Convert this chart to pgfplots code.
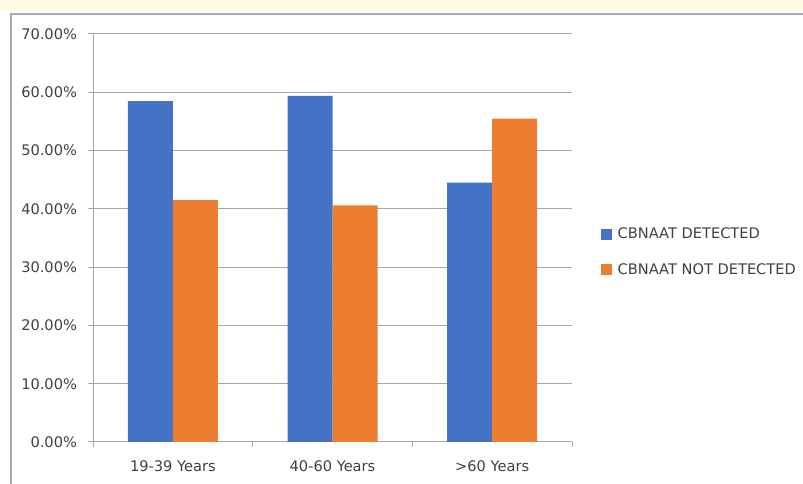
\documentclass[border=0pt]{standalone}
\usepackage{pgfplots}
\pgfplotsset{compat=1.18}
\usepackage{fontspec}
\setmainfont{DejaVu Sans}
\definecolor{cblue}{HTML}{4472C4}
\definecolor{corange}{HTML}{ED7D31}
\definecolor{gridgray}{HTML}{A6A6A6}
\definecolor{framegray}{HTML}{ABABAB}
\definecolor{topyellow}{HTML}{FFFBE5}
\definecolor{txt}{HTML}{404040}
\begin{document}
\fontsize{14.6bp}{17bp}\selectfont
\begin{tikzpicture}
\useasboundingbox (0,0) rectangle (803bp,484bp);
\fill[topyellow] (0,474bp) rectangle (803bp,484bp);
\draw[framegray, line width=1.5bp] (11bp,0) -- (11bp,470bp) -- (803bp,470bp);
\begin{axis}[
  at={(93bp,42bp)}, anchor=south west,
  scale only axis, width=479bp, height=408bp,
  xmin=-0.5, xmax=2.5, ymin=0, ymax=70,
  ybar=0pt, bar width=45bp,
  axis lines*=left,
  axis line style={gridgray, line width=1bp},
  ymajorgrids, grid style={gridgray, line width=1bp},
  ytick={0,10,...,70},
  yticklabel={\pgfmathprintnumber[fixed,fixed zerofill,precision=2,assume math mode=true]{\tick}\%},
  xtick={0,1,2},
  xticklabels={19-39 Years, 40-60 Years, >60 Years},
  minor xtick={-0.5,0.5,1.5,2.5},
  tick align=outside,
  major tick length=5bp, minor tick length=5bp,
  tick style={gridgray, line width=1bp},
  major x tick style={draw=none},
  x tick label style={yshift=-9bp},
  y tick label style={xshift=-6bp},
  tick label style={text=txt, font=\fontsize{14.6bp}{17bp}\selectfont},
  legend style={at={(1.0606,0.4657)}, anchor=west, draw=none, fill=none,
    font=\fontsize{14.6bp}{17bp}\selectfont, text=txt,
    row sep=18.5bp, column sep=3.5bp, inner sep=0pt},
  legend cell align=left,
  legend image code/.code={\fill[#1,draw=none] (0bp,-5.5bp) rectangle (11bp,5.5bp);},
]
\addplot[fill=cblue, draw=none] coordinates {(0,58.5) (1,59.4) (2,44.5)};
\addplot[fill=corange, draw=none] coordinates {(0,41.5) (1,40.6) (2,55.5)};
\legend{CBNAAT DETECTED, CBNAAT NOT DETECTED}
\end{axis}
\end{tikzpicture}
\end{document}
